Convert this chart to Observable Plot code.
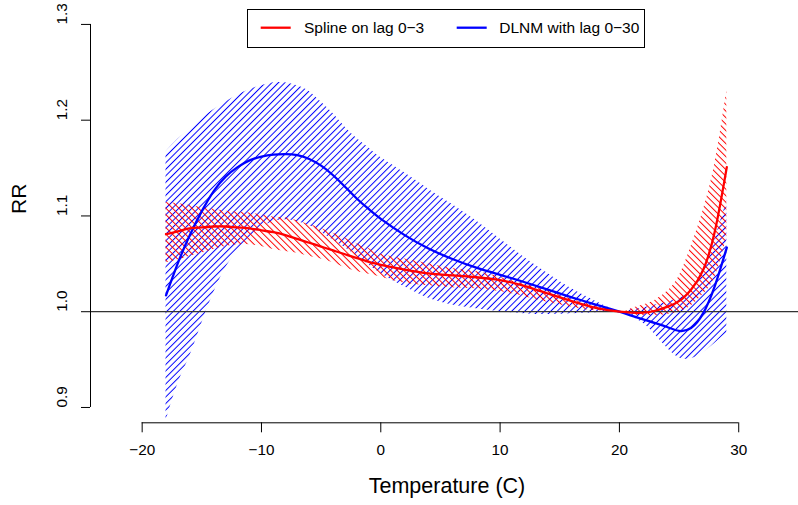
<!DOCTYPE html>
<html><head><meta charset="utf-8">
<script src="https://cdn.jsdelivr.net/npm/d3@7"></script>
<script src="https://cdn.jsdelivr.net/npm/@observablehq/plot@0.6"></script>
<style>body{margin:0;background:#fff}</style>
</head><body><div id="chart"></div>
<script>
const temps = [-18,-17,-16,-15,-14,-13,-12,-11,-10,-9,-8,-7,-6,-5,-4,-3,-2,-1,0,2,4,6,8,10,12,14,16,18,20,21,22,23,24,25,26,27,28,29];
const redFit = [1.081,1.084,1.087,1.088,1.089,1.089,1.088,1.087,1.085,1.083,1.080,1.076,1.072,1.068,1.064,1.060,1.056,1.052,1.049, 1.044,1.040,1.038,1.036,1.033,1.027,1.019,1.011,1.004, 1.000,0.999,0.999,1.001,1.005,1.011,1.023,1.043,1.084,1.151];
const redHi = [1.114,1.113,1.111,1.109,1.107,1.105,1.104,1.103,1.101,1.099,1.098,1.095,1.091,1.087,1.082,1.077,1.071,1.066,1.060, 1.055,1.050,1.045,1.042,1.036,1.029,1.022,1.013,1.006, 1.000,1.003,1.007,1.012,1.021,1.037,1.068,1.105,1.155,1.231];
const redLo = [1.051,1.054,1.058,1.061,1.065,1.068,1.070,1.070,1.068,1.065,1.063,1.061,1.058,1.055,1.051,1.046,1.042,1.039,1.036, 1.030,1.027,1.025,1.024,1.021,1.016,1.010,1.005,1.001, 1.000,0.997,0.996,0.996,0.997,1.000,1.006,1.018,1.036,1.078];
const blueFit = [1.017,1.051,1.080,1.105,1.126,1.141,1.151,1.158,1.162,1.164,1.1645,1.1635,1.1595,1.1525,1.1425,1.1305,1.118,1.107,1.097, 1.080,1.066,1.055,1.046,1.0385,1.031,1.023,1.015,1.0075, 1.000,0.996,0.992,0.988,0.984,0.980,0.983,0.998,1.027,1.067];
const blueHi = [1.167,1.180,1.191,1.202,1.211,1.219,1.226,1.232,1.236,1.239,1.239,1.236,1.230,1.219,1.207,1.193,1.181,1.171,1.161, 1.145,1.128,1.112,1.095,1.076,1.057,1.040,1.024,1.011, 1.000,1.002,1.004,1.007,1.010,1.014,1.022,1.044,1.076,1.116];
const blueLo = [0.886,0.925,0.954,0.988,1.020,1.046,1.063,1.077,1.088,1.094,1.096,1.094,1.090,1.083,1.075,1.067,1.058,1.049,1.040, 1.026,1.014,1.007,1.003,1.000,0.998,0.997,0.998,0.999, 1.000,0.995,0.988,0.976,0.962,0.952,0.951,0.957,0.967,0.978];
const xTicks = [-20,-10,0,10,20,30];
const yTicks = [0.9,1.0,1.1,1.2,1.3];
const seriesNames = ["Spline on lag 0\u22123","DLNM with lag 0\u221230"];
const seriesColors = ["#ff0000","#0000ff"];

const xDomain = [-24.33, 35.01];
const yDomain = [0.884, 1.316];
const font = "'Liberation Sans', Arial, Helvetica, sans-serif";
const fmtX = d => d < 0 ? "\u2212" + (-d) : String(d);

const rows = temps.map((t,i) => ({t, rf: redFit[i], rh: redHi[i], rl: redLo[i], bf: blueFit[i], bh: blueHi[i], bl: blueLo[i]}));
const cv = "natural";

const chart = Plot.plot({
  width: 798, height: 505,
  marginLeft: 90, marginRight: 0, marginTop: 8.6, marginBottom: 82.7,
  x: {domain: xDomain, axis: null},
  y: {domain: yDomain, axis: null},
  style: {fontFamily: font, background: "white", color: "black", overflow: "visible"},
  marks: [
    Plot.areaY(rows, {x: "t", y1: "bl", y2: "bh", fill: "url(#hatchBlue)", curve: cv}),
    Plot.areaY(rows, {x: "t", y1: "rl", y2: "rh", fill: "url(#hatchRed)", curve: cv}),
    Plot.ruleY([1], {stroke: "#333", strokeWidth: 1.2}),
    Plot.lineY(rows, {x: "t", y: "bf", stroke: seriesColors[1], strokeWidth: 2.3, curve: cv}),
    Plot.lineY(rows, {x: "t", y: "rf", stroke: seriesColors[0], strokeWidth: 2.3, curve: cv}),
    // x axis
    Plot.ruleY([yDomain[0]], {x1: xTicks[0], x2: xTicks[xTicks.length-1], stroke: "black"}),
    Plot.ruleX(xTicks, {x: d => d, y1: yDomain[0], y2: yDomain[0], insetBottom: -10, stroke: "black"}),
    Plot.text(xTicks, {x: d => d, frameAnchor: "bottom", dy: 32.2, text: fmtX, fontSize: 15.3, fill: "black"}),
    // y axis
    Plot.ruleX([xDomain[0]], {y1: yTicks[0], y2: yTicks[yTicks.length-1], stroke: "black"}),
    Plot.ruleY(yTicks, {y: d => d, x1: xDomain[0], x2: xDomain[0], insetLeft: -9, stroke: "black"}),
    Plot.text(yTicks, {y: d => d, frameAnchor: "left", dx: -28.3, rotate: -90, text: d => d.toFixed(1), fontSize: 15.3, fill: "black"}),
    // axis titles
    Plot.text(["Temperature (C)"], {frameAnchor: "bottom", dy: 70.2, dx: 2.5, text: d => d, fontSize: 21.5, fill: "black"}),
    Plot.text(["RR"], {frameAnchor: "left", dx: -71.5, dy: -2, rotate: -90, text: d => d, fontSize: 21, fill: "black"})
  ]
});

const svg = d3.select(chart);
const defs = svg.insert("defs", ":first-child");
const P = 4.6;
function hatch(id, color, angle) {
  defs.append("pattern").attr("id", id).attr("patternUnits", "userSpaceOnUse")
    .attr("width", P).attr("height", P).attr("patternTransform", `rotate(${angle})`)
    .append("line").attr("x1", P/2).attr("y1", -1).attr("x2", P/2).attr("y2", P+1)
    .attr("stroke", color).attr("stroke-width", 1);
}
hatch("hatchBlue", "#0000ff", 45);
hatch("hatchRed", "#ff0000", -45);

// legend (inside plot, at top)
const lg = svg.append("g").attr("font-family", font).attr("font-size", 15.5).attr("text-anchor", "start");
lg.append("rect").attr("x", 247.5).attr("y", 9.5).attr("width", 397).attr("height", 38)
  .attr("fill", "white").attr("stroke", "black").attr("stroke-width", 1);
const entries = [{lx: 260.7, tx: 304}, {lx: 456.7, tx: 499.3}];
entries.forEach((e, i) => {
  lg.append("line").attr("x1", e.lx).attr("x2", e.lx + 30).attr("y1", 27.7).attr("y2", 27.7)
    .attr("stroke", seriesColors[i]).attr("stroke-width", 2.3);
  lg.append("text").attr("x", e.tx).attr("y", 28).attr("dy", "0.35em").attr("text-anchor", "start").attr("fill", "black").text(seriesNames[i]);
});

document.getElementById("chart").appendChild(chart);
</script>
</body></html>
